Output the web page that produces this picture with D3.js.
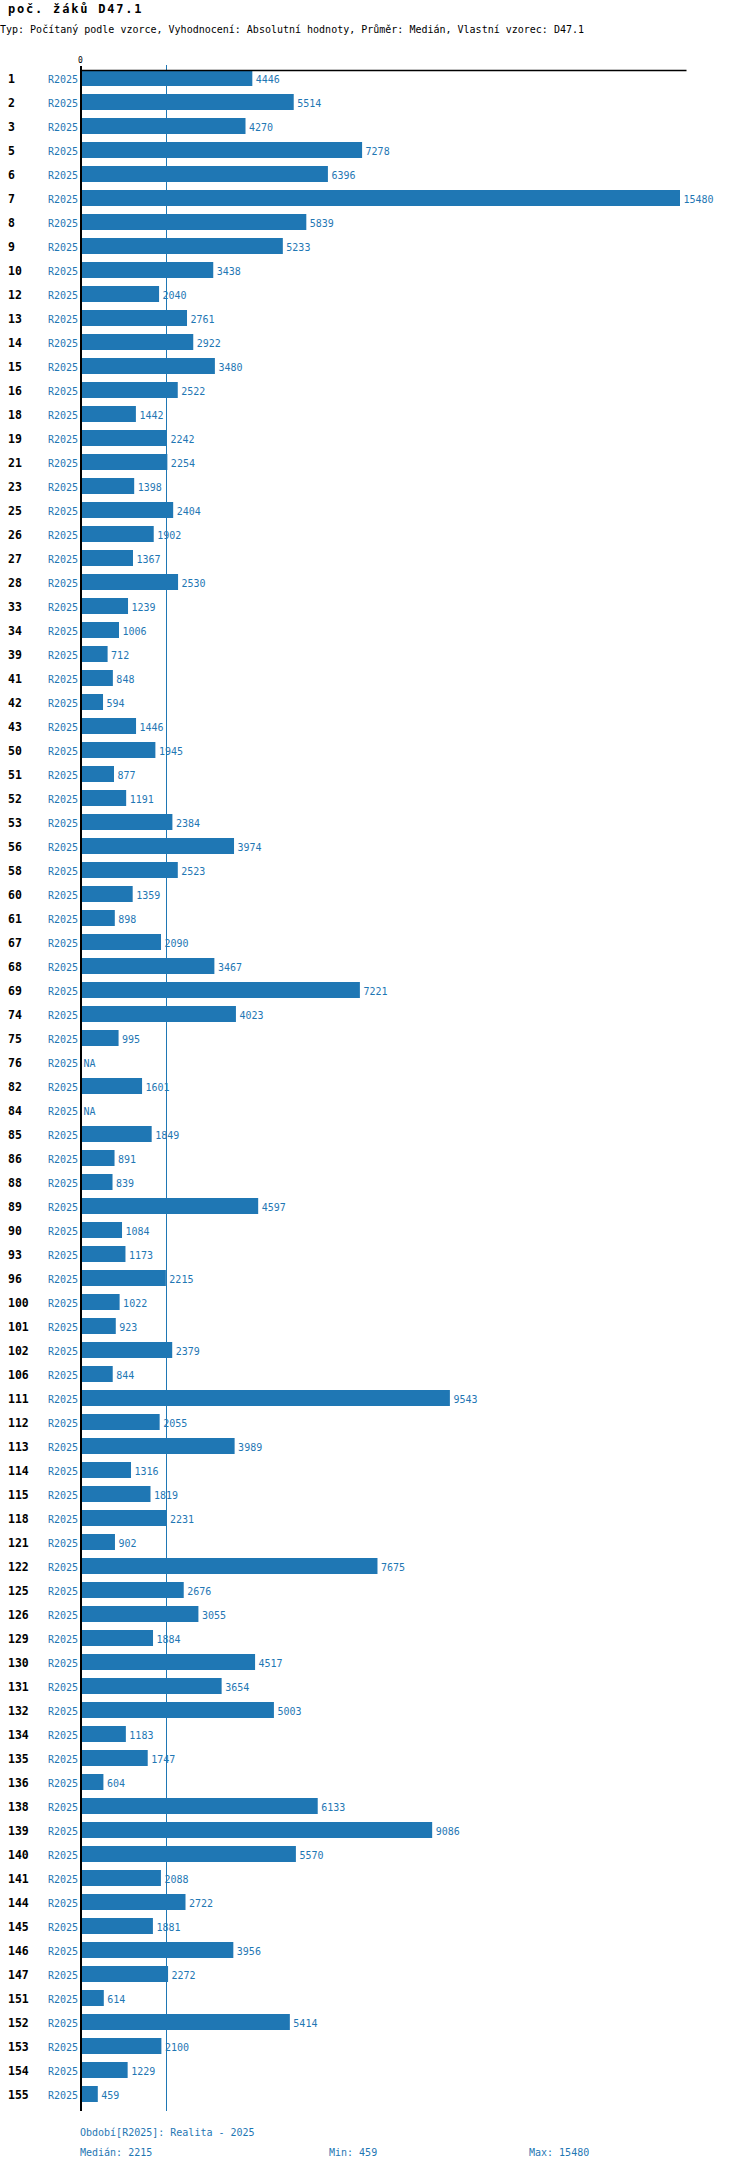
<!DOCTYPE html>
<html><head><meta charset="utf-8">
<script src="https://cdn.jsdelivr.net/npm/d3@7/dist/d3.min.js"></script>
<style>
html,body{margin:0;padding:0;background:#fff;}
text{font-family:"DejaVu Sans Mono",monospace;}
</style></head><body>
<svg id="chart" width="750" height="2170"></svg>
<script>
const categories = ["1","2","3","5","6","7","8","9","10","12","13","14","15","16","18","19","21","23","25","26","27","28","33","34","39","41","42","43","50","51","52","53","56","58","60","61","67","68","69","74","75","76","82","84","85","86","88","89","90","93","96","100","101","102","106","111","112","113","114","115","118","121","122","125","126","129","130","131","132","134","135","136","138","139","140","141","144","145","146","147","151","152","153","154","155"];
const values = [4446,5514,4270,7278,6396,15480,5839,5233,3438,2040,2761,2922,3480,2522,1442,2242,2254,1398,2404,1902,1367,2530,1239,1006,712,848,594,1446,1945,877,1191,2384,3974,2523,1359,898,2090,3467,7221,4023,995,null,1601,null,1849,891,839,4597,1084,1173,2215,1022,923,2379,844,9543,2055,3989,1316,1819,2231,902,7675,2676,3055,1884,4517,3654,5003,1183,1747,604,6133,9086,5570,2088,2722,1881,3956,2272,614,5414,2100,1229,459];
const seriesLabel = "R2025";
const xTickValues = [0];
const titleText = "poč. žáků D47.1";
const subtitleText = "Typ: Počítaný podle vzorce, Vyhodnocení: Absolutní hodnoty, Průměr: Medián, Vlastní vzorec: D47.1";
const periodText = "Období[R2025]: Realita - 2025";

const blue = "#1f77b4";
const svg = d3.select("#chart");
const data = categories.map((c, i) => ({cat: c, v: values[i]}));
const valid = values.filter(v => v != null);
const med = d3.median(valid), mn = d3.min(valid), mx = d3.max(valid);

const x = d3.scaleLinear().domain([0, mx * 1.01]).range([80, 686]);
const y = d3.scaleBand().domain(categories).range([70, 70 + categories.length * 24])
  .paddingInner(1/3).paddingOuter(1/6).align(0);
const yEnd = y.range()[1] + 1;

// title
svg.append("text").attr("x", 8).attr("y", 12.7).attr("font-size", 12).attr("font-weight", "bold")
  .attr("letter-spacing", 1.8).attr("fill", "#000").text(titleText);
svg.append("text").attr("x", 0).attr("y", 33).attr("font-size", 10).attr("fill", "#000").text(subtitleText);

// median line (behind bars)
svg.append("line").attr("x1", Math.round(x(med)) + 0.5).attr("x2", Math.round(x(med)) + 0.5)
  .attr("y1", 65).attr("y2", yEnd).attr("stroke", blue).attr("stroke-width", 1);

// bars
svg.append("g").selectAll("rect").data(data.filter(d => d.v != null)).join("rect")
  .attr("x", x(0)).attr("y", d => y(d.cat)).attr("width", d => x(d.v) - x(0))
  .attr("height", y.bandwidth()).attr("fill", blue);

// value labels
svg.append("g").selectAll("text").data(data).join("text")
  .attr("x", d => (d.v == null ? x(0) : x(d.v)) + 3.5)
  .attr("y", d => y(d.cat) + 13).attr("font-size", 10).attr("fill", blue)
  .text(d => d.v == null ? "NA" : d.v);

// category labels
svg.append("g").selectAll("text").data(data).join("text")
  .attr("x", 8).attr("y", d => y(d.cat) + 13).attr("font-size", 11.5).attr("font-weight", "bold")
  .attr("fill", "#000").text(d => d.cat);

// series labels
svg.append("g").selectAll("text").data(data).join("text")
  .attr("x", 78).attr("y", d => y(d.cat) + 13).attr("font-size", 10).attr("text-anchor", "end")
  .attr("fill", blue).text(seriesLabel);

// top axis
const gx = svg.append("g").attr("transform", "translate(0,70)")
  .call(d3.axisTop(x).tickValues(xTickValues).tickSize(4).tickSizeOuter(0));
gx.select(".domain").attr("stroke", "#000").attr("stroke-width", 1.5);
gx.selectAll(".tick line").attr("stroke", "#000");
gx.selectAll(".tick text").attr("font-family", "DejaVu Sans Mono, monospace").attr("font-size", 8).attr("fill", "#000");

// left axis line
svg.append("line").attr("x1", 81).attr("x2", 81).attr("y1", 66).attr("y2", yEnd)
  .attr("stroke", "#000").attr("stroke-width", 2);

// footer
svg.append("text").attr("x", 80).attr("y", 2135.5).attr("font-size", 10).attr("fill", blue).text(periodText);
svg.append("text").attr("x", 80).attr("y", 2155.5).attr("font-size", 10).attr("fill", blue).text("Medián: " + med);
svg.append("text").attr("x", 329).attr("y", 2155.5).attr("font-size", 10).attr("fill", blue).text("Min: " + mn);
svg.append("text").attr("x", 529).attr("y", 2155.5).attr("font-size", 10).attr("fill", blue).text("Max: " + mx);
</script>
</body></html>
